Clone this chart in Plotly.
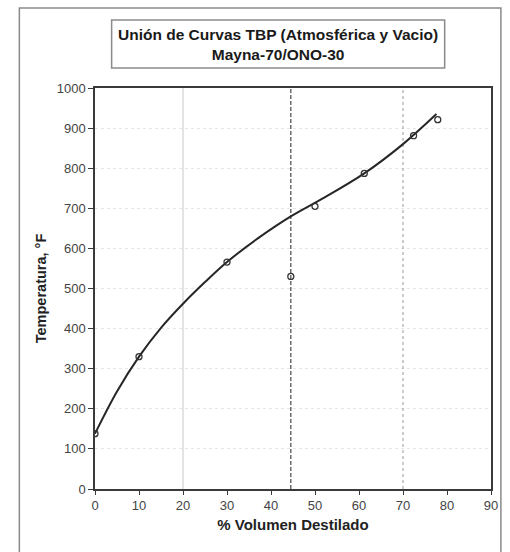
import plotly.graph_objects as go

# Measured points (open circles)
pts_x = [0, 10, 30, 44.5, 50.0, 61.2, 72.4, 77.9]
pts_y = [138, 330, 566, 530, 705, 787, 881, 921]

# Smoothed union curve
curve_x = [0, 5, 10, 15, 20, 25, 30, 37, 44.5, 52, 61.2, 70, 77.6]
curve_y = [138, 243, 330, 402, 462, 516, 566, 625, 680, 726, 787, 860, 935]

# Vertical reference lines
vline_20 = [20, 20]
vline_cut = [44.5, 44.5]
vline_70 = [70, 70]
vline_y = [0, 1000]

x_ticks = [0, 10, 20, 30, 40, 50, 60, 70, 80, 90]
y_ticks = [0, 100, 200, 300, 400, 500, 600, 700, 800, 900, 1000]

FONT = "Liberation Sans, Arial, sans-serif"

fig = go.Figure()
fig.add_trace(go.Scatter(x=vline_20, y=vline_y, mode="lines",
                         line=dict(color="#c8c8c8", width=1), hoverinfo="skip"))
fig.add_trace(go.Scatter(x=vline_cut, y=vline_y, mode="lines",
                         line=dict(color="#555555", width=1.3, dash="4px,2px"), hoverinfo="skip"))
fig.add_trace(go.Scatter(x=vline_70, y=vline_y, mode="lines",
                         line=dict(color="#9a9a9a", width=1, dash="dot"), hoverinfo="skip"))
fig.add_trace(go.Scatter(x=curve_x, y=curve_y, mode="lines",
                         line=dict(color="#262626", width=2, shape="spline", smoothing=1.0)))
fig.add_trace(go.Scatter(x=pts_x, y=pts_y, mode="markers",
                         marker=dict(symbol="circle-open", size=6, color="#333333",
                                     line=dict(width=1.3, color="#333333"))))

fig.update_layout(
    width=510, height=552,
    margin=dict(l=95, r=12, t=88, b=63),
    paper_bgcolor="white", plot_bgcolor="white",
    showlegend=False,
    font=dict(family=FONT, size=11, color="#3a3a3a"),
    xaxis=dict(range=[0, 90], tickvals=x_ticks, showgrid=False, zeroline=False,
               showline=True, linecolor="#3a3a3a", linewidth=1.5, mirror=True,
               ticks="outside", ticklen=4, tickcolor="#3a3a3a",
               tickfont=dict(size=13, color="#444444"),
               title=dict(text="<b>% Volumen Destilado</b>", font=dict(size=15, color="#222222"),
                          standoff=7)),
    yaxis=dict(range=[0, 1000], tickvals=y_ticks, showgrid=True, gridcolor="#e6e6e6",
               griddash="dot", gridwidth=1, zeroline=False,
               showline=True, linecolor="#3a3a3a", linewidth=1.5, mirror=True,
               ticks="outside", ticklen=5, tickcolor="#3a3a3a",
               tickfont=dict(size=13, color="#444444"),
               title=dict(text="<b>Temperatura, °F</b>", font=dict(size=14.5, color="#222222"),
                          standoff=7)),
    shapes=[
        dict(type="rect", xref="paper", yref="paper", x0=-0.191, x1=1.025, y0=-0.3, y1=1.1995,
             line=dict(color="#8a8a8a", width=1.5), layer="below"),
        dict(type="rect", xref="paper", yref="paper", x0=0.042, x1=0.883, y0=1.0499, y1=1.1696,
             line=dict(color="#8a8a8a", width=1.5)),
    ],
    annotations=[
        dict(xref="paper", yref="paper", x=0.4628, y=1.1097, showarrow=False,
             text="<b>Unión de Curvas TBP (Atmosférica y Vacio)<br>Mayna-70/ONO-30</b>",
             font=dict(size=15.5, color="#1a1a1a", family=FONT), align="center",
             xanchor="center", yanchor="middle"),
    ],
)

fig.write_html("out.html")
